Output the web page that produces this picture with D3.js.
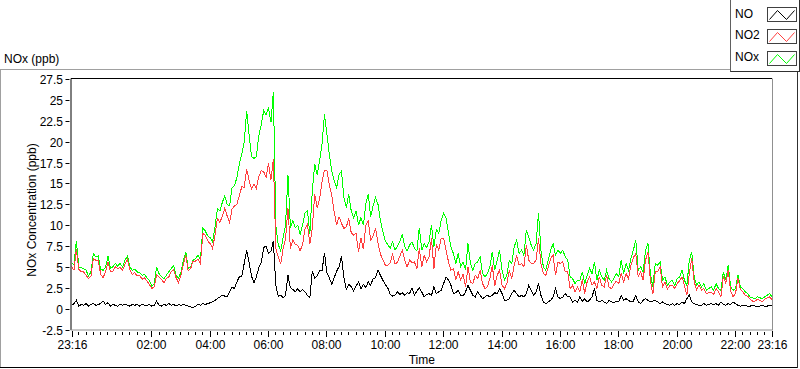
<!DOCTYPE html>
<html><head><meta charset="utf-8">
<script src="https://cdn.jsdelivr.net/npm/d3@7"></script>
<style>
body{margin:0;background:#fff}
svg{display:block}
text{font-family:"Liberation Sans",Arial,sans-serif;font-size:12px;fill:#000}
</style>
</head><body><svg id="c" width="800" height="369"></svg>
<script>
// ---- data (5-minute samples starting 23:16) ----
const seriesNames = ["NO", "NO2", "NOx"];
const stepMinutes = 5;
const NOx = [
5.5,5.2,8.1,5.0,4.9,4.8,4.6,3.9,4.4,6.6,
6.2,6.3,4.7,4.6,4.9,6.3,4.8,5.0,5.4,5.1,
5.4,5.0,5.8,6.3,5.0,4.6,4.7,4.4,4.3,4.0,
4.1,3.7,3.4,2.7,3.0,5.0,4.2,3.8,3.6,4.0,
4.4,4.8,5.2,4.0,3.6,4.4,5.8,6.8,4.8,5.0,
5.8,6.0,6.4,5.8,9.6,9.3,8.7,8.5,8.0,9.8,
12.0,11.7,12.7,13.5,12.5,12.3,14.5,14.7,15.7,17.3,
18.5,19.9,23.7,20.9,18.2,18.0,18.2,20.7,22.0,23.7,
23.2,24.0,22.3,26.0,10.0,7.7,6.9,8.5,10.0,16.0,
9.7,10.5,9.7,10.0,8.9,10.0,11.5,11.7,9.0,14.1,
17.3,16.0,17.7,19.7,23.3,20.9,18.5,16.5,15.3,14.5,
16.0,16.5,13.3,12.1,13.7,11.7,10.9,11.7,10.0,10.9,
10.0,12.5,13.7,11.0,12.3,13.3,12.5,10.5,9.3,8.1,
7.7,7.2,8.0,7.0,7.5,8.0,8.9,7.4,6.9,7.6,
8.0,7.2,6.9,9.7,7.0,7.8,7.3,8.0,10.0,7.4,
9.5,9.0,10.6,11.4,10.8,9.0,7.4,6.6,5.4,6.6,
5.0,5.6,4.6,7.8,5.4,4.6,5.4,5.6,6.2,4.2,
3.8,4.2,5.0,6.8,4.6,5.8,7.0,4.6,3.4,4.0,
5.8,5.4,7.4,8.2,6.6,7.0,6.4,9.4,8.6,7.6,
7.0,7.8,11.4,7.0,5.0,4.6,5.8,7.0,7.8,6.4,
7.0,6.6,7.0,6.2,5.8,3.8,3.6,3.0,3.4,3.4,
4.4,3.0,4.0,4.8,4.2,5.6,3.4,4.6,3.8,3.4,
4.6,3.6,3.2,3.6,4.2,3.8,5.8,4.2,5.4,4.6,
6.0,7.0,8.2,4.6,5.0,4.4,7.0,7.8,4.2,2.6,
5.4,5.2,5.6,3.4,3.8,2.8,3.2,3.4,2.8,3.6,
3.8,4.6,3.4,2.8,5.8,6.8,3.8,2.8,3.2,2.6,
3.0,2.2,2.4,2.6,2.2,3.0,2.4,2.2,4.4,3.4,
5.2,2.6,2.2,2.4,4.0,2.6,2.4,2.0,1.8,1.4,
1.3,1.2,1.4,1.3,1.2,1.4,1.6,1.8,1.4
];
const NO = [
0.4,0.6,1.0,0.3,0.5,0.4,0.6,0.3,0.5,0.6,
0.4,0.5,0.6,0.9,0.5,0.7,0.3,0.5,0.4,0.3,
0.5,0.4,0.5,0.4,0.3,0.5,0.4,0.5,0.3,0.5,
0.4,0.4,0.5,0.3,0.4,0.9,0.4,0.3,0.5,0.4,
0.6,0.4,0.5,0.3,0.5,0.4,0.5,0.4,0.3,0.2,
0.1,0.3,0.5,0.4,0.6,0.5,0.6,0.7,0.8,1.0,
1.2,1.4,1.6,1.5,1.4,2.0,2.6,2.4,3.2,3.8,
3.9,5.4,7.0,5.5,3.9,3.1,3.8,4.9,5.5,7.3,
7.5,6.6,6.9,8.1,2.8,1.5,1.6,1.3,1.6,4.0,
2.5,2.3,2.0,2.4,2.0,2.3,2.0,1.6,1.3,4.5,
3.6,3.9,4.6,4.5,6.7,4.3,3.7,2.9,3.7,4.5,
5.0,6.3,3.7,2.3,2.9,2.6,2.1,2.7,3.2,2.4,
2.9,2.5,3.2,2.8,3.6,3.7,4.6,4.0,3.4,2.9,
2.5,1.7,1.5,1.6,2.0,1.7,1.9,1.6,1.9,1.8,
2.5,1.6,2.1,2.5,2.0,1.4,1.7,1.8,1.6,2.6,
1.8,2.0,2.2,3.0,3.8,3.4,2.8,1.8,1.9,2.2,
1.6,1.5,2.0,2.8,2.2,1.6,1.4,2.0,1.6,1.2,
1.4,1.6,1.4,1.6,1.9,1.8,2.4,1.8,1.0,1.0,
1.2,1.8,2.2,1.8,1.4,1.6,1.4,1.8,2.8,2.2,
1.6,2.0,3.0,1.6,0.8,0.6,0.8,1.0,1.4,2.4,
1.4,1.2,1.4,1.8,1.4,1.4,0.8,1.0,0.8,1.4,
0.9,1.2,0.8,1.0,1.4,2.4,1.0,0.8,1.0,0.8,
0.6,1.0,0.8,0.7,0.9,0.8,1.6,1.0,1.2,1.0,
0.8,0.9,1.6,0.8,0.6,1.0,1.2,1.0,0.8,0.9,
1.0,0.8,0.6,0.8,0.6,0.5,0.4,0.6,0.4,0.6,
0.5,0.8,0.6,1.2,1.6,0.8,0.6,0.5,0.4,0.4,
0.6,0.4,0.5,0.6,0.5,0.6,0.4,0.8,0.5,0.4,
0.6,0.5,0.8,0.6,0.4,0.3,0.4,0.4,0.3,0.3,
0.4,0.3,0.3,0.3,0.4,0.3,0.3,0.4,0.3
];
const NO2 = [
5.1,4.6,7.1,4.7,4.4,4.4,4.0,3.6,3.9,6.0,
5.8,5.8,4.1,3.7,4.4,5.6,4.5,4.5,5.0,4.8,
4.9,4.6,5.3,5.9,4.7,4.1,4.3,3.9,4.0,3.5,
3.7,3.3,2.9,2.4,2.6,4.1,3.8,3.5,3.1,3.6,
3.8,4.4,4.7,3.7,3.1,4.0,5.3,6.4,4.5,4.8,
5.7,5.7,5.9,5.4,9.0,8.8,8.1,7.8,7.2,8.8,
10.8,10.3,11.1,12.0,11.1,10.3,11.9,12.3,12.5,13.5,
14.6,14.5,16.7,15.4,14.3,14.9,14.4,15.8,16.5,16.4,
15.7,17.4,15.4,17.9,7.2,6.2,5.3,7.2,8.4,12.0,
7.2,8.2,7.7,7.6,6.9,7.7,9.5,10.1,7.7,9.6,
13.7,12.1,13.1,15.2,16.6,16.6,14.8,13.6,11.6,10.0,
11.0,10.2,9.6,9.8,10.8,9.1,8.8,9.0,6.8,8.5,
7.1,10.0,10.5,8.2,8.7,9.6,7.9,6.5,5.9,5.2,
5.2,5.5,6.5,5.4,5.5,6.3,7.0,5.8,5.0,5.8,
5.5,5.6,4.8,7.2,5.0,6.4,5.6,6.2,8.4,4.8,
7.7,7.0,8.4,8.4,7.0,5.6,4.6,4.8,3.5,4.4,
3.4,4.1,2.6,5.0,3.2,3.0,4.0,3.6,4.6,3.0,
2.4,2.6,3.6,5.2,2.7,4.0,4.6,2.8,2.4,3.0,
4.6,3.6,5.2,6.4,5.2,5.4,5.0,7.6,5.8,5.4,
5.4,5.8,8.4,5.4,4.2,4.0,5.0,6.0,6.4,4.0,
5.6,5.4,5.6,4.4,4.4,2.4,2.8,2.0,2.6,2.0,
3.5,1.8,3.2,3.8,2.8,3.2,2.4,3.8,2.8,2.6,
4.0,2.6,2.4,2.9,3.3,3.0,4.2,3.2,4.2,3.6,
5.2,6.1,6.6,3.8,4.4,3.4,5.8,6.8,3.4,1.7,
4.4,4.4,5.0,2.6,3.2,2.3,2.8,2.8,2.4,3.0,
3.3,3.8,2.8,1.6,4.2,6.0,3.2,2.3,2.8,2.2,
2.4,1.8,1.9,2.0,1.7,2.4,2.0,1.4,3.9,3.0,
4.6,2.1,1.4,1.8,3.6,2.3,2.0,1.6,1.5,1.1,
0.9,0.9,1.1,1.0,0.8,1.1,1.3,1.4,1.1
];
const yTicks = [-2.5,0,2.5,5,7.5,10,12.5,15,17.5,20,22.5,25,27.5];
const xTickLabels = ["23:16","02:00","04:00","06:00","08:00","10:00","12:00","14:00","16:00","18:00","20:00","22:00","23:16"];
const chartTitle = "NOx (ppb)";
const yTitle = "NOx Concentration (ppb)";
const xTitle = "Time";

// ---- layout ----
const svg = d3.select("#c");
const L = 71.5, R = 772, T = 78.5, B = 329.5;
const t0 = new Date(2020, 0, 1, 23, 16);
const t1 = d3.timeHour.offset(t0, 24);
const x = d3.scaleTime().domain([t0, t1]).range([L, R]);
const y = d3.scaleLinear().domain([-2.5, 27.5]).range([B, T + 0.5]);

const times = NOx.map((_, i) => d3.timeMinute.offset(t0, i * stepMinutes));
const labelDates = xTickLabels.map((s, i) => {
  if (i === 0) return t0;
  const [h, m] = s.split(":").map(Number);
  return new Date(2020, 0, 2, h, m);
});

// outer panel frame
svg.append("line").attr("x1", 0).attr("x2", 730).attr("y1", 69.5).attr("y2", 69.5).attr("stroke", "#a0a0a0");
svg.append("line").attr("x1", 0.5).attr("x2", 0.5).attr("y1", 69.5).attr("y2", 368).attr("stroke", "#a0a0a0");
svg.append("line").attr("x1", 0).attr("x2", 798).attr("y1", 367.5).attr("y2", 367.5).attr("stroke", "#000");
svg.append("line").attr("x1", 797.5).attr("x2", 797.5).attr("y1", 71.5).attr("y2", 368).attr("stroke", "#303030");

// title
svg.append("text").attr("x", 4).attr("y", 63).text(chartTitle);

// plot area
const clip = svg.append("clipPath").attr("id", "pc").append("rect")
  .attr("x", L).attr("y", T).attr("width", R - L).attr("height", B - T);

const lineGen = vals => d3.line().x((d, i) => x(times[i])).y(d => y(d))(vals);
const g = svg.append("g").attr("clip-path", "url(#pc)");
[[NOx, "#00ff00"], [NO2, "#ff4040"], [NO, "#000000"]].forEach(([vals, col]) => {
  g.append("path").attr("d", lineGen(vals)).attr("fill", "none")
    .attr("stroke", col).attr("stroke-width", 1).attr("shape-rendering", "crispEdges");
});

// plot borders
svg.append("line").attr("x1", L - 0.5).attr("x2", R).attr("y1", T).attr("y2", T).attr("stroke", "#000");
svg.append("line").attr("x1", L - 0.5).attr("x2", L - 0.5).attr("y1", T).attr("y2", B + 0.5).attr("stroke", "#000");
svg.append("line").attr("x1", R + 0.5).attr("x2", R + 0.5).attr("y1", T).attr("y2", B + 0.5).attr("stroke", "#909090");
svg.append("line").attr("x1", L - 1).attr("x2", R + 1).attr("y1", B + 0.5).attr("y2", B + 0.5).attr("stroke", "#909090");

// y axis ticks
const yg = svg.append("g");
yTicks.forEach(v => {
  const yy = Math.round(y(v)) + 0.5;
  yg.append("line").attr("x1", 65.5).attr("x2", 69.5).attr("y1", yy).attr("y2", yy).attr("stroke", "#000");
  yg.append("text").attr("x", 63).attr("y", yy + 4.5).attr("text-anchor", "end").text(String(v));
});
svg.append("text").attr("transform", `translate(35.5,${(T + B) / 2 + 6}) rotate(-90)`)
  .attr("text-anchor", "middle").text(yTitle);

// x axis ticks
const xg = svg.append("g");
const majorSet = new Set(labelDates.map(d => +d));
d3.timeMinute.every(15).range(t0, t1).forEach(d => {
  if (majorSet.has(+d)) return;
  const xx = Math.round(x(d)) + 0.5;
  xg.append("line").attr("x1", xx).attr("x2", xx).attr("y1", 332).attr("y2", 335).attr("stroke", "#000");
});
labelDates.forEach((d, i) => {
  const xx = Math.round(x(d)) + 0.5;
  xg.append("line").attr("x1", xx).attr("x2", xx).attr("y1", 331).attr("y2", 337).attr("stroke", "#000");
  xg.append("text").attr("x", xx).attr("y", 349).attr("text-anchor", "middle").text(xTickLabels[i]);
});
svg.append("text").attr("x", (L + R) / 2).attr("y", 364).attr("text-anchor", "middle").text(xTitle);

// legend
const lg = svg.append("g");
lg.append("line").attr("x1", 730.5).attr("x2", 730.5).attr("y1", 0).attr("y2", 72).attr("stroke", "#606060");
lg.append("line").attr("x1", 730.5).attr("x2", 799).attr("y1", 71.5).attr("y2", 71.5).attr("stroke", "#303030");
lg.append("line").attr("x1", 799.5).attr("x2", 799.5).attr("y1", 0).attr("y2", 72).attr("stroke", "#303030");
const legendColors = ["#000000", "#ff4040", "#00ff00"];
seriesNames.forEach((name, i) => {
  const top = 7 + i * 21.8;
  lg.append("text").attr("x", 735).attr("y", top + 10.5).text(name);
  const bx = 767.5, by = Math.round(top) + 0.5;
  lg.append("rect").attr("x", bx).attr("y", by).attr("width", 29).attr("height", 14)
    .attr("fill", "#fff").attr("stroke", "#404040");
  const pts = [[2, 12], [10, 3], [19, 12], [27, 3]].map(p => [bx + p[0], by + p[1]]);
  lg.append("path").attr("d", d3.line()(pts)).attr("fill", "none").attr("stroke", legendColors[i]);
});
</script>
</body></html>
